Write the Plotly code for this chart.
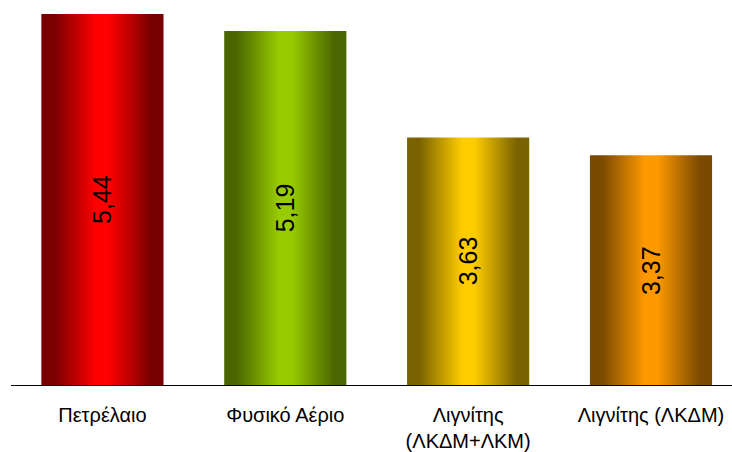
import plotly.graph_objects as go

# Data
categories = ["Πετρέλαιο", "Φυσικό Αέριο", "Λιγνίτης<br>(ΛΚΔΜ+ΛΚΜ)", "Λιγνίτης (ΛΚΔΜ)"]
values = [5.44, 5.19, 3.63, 3.37]
center_colors = ["#FF0000", "#99CC00", "#FFCC00", "#FF9900"]
edge_colors = ["#780000", "#4A6600", "#7A6200", "#7A4A00"]

BAR_WIDTH = 0.668
FONT = "Arial, Liberation Sans, sans-serif"

fig = go.Figure()

# Gradient-filled bar bodies (dark edges, bright centre)
for i, (v, c, e) in enumerate(zip(values, center_colors, edge_colors)):
    x0, x1 = i - BAR_WIDTH / 2, i + BAR_WIDTH / 2
    fig.add_trace(go.Scatter(
        x=[x0, x0, x1, x1, x0],
        y=[0, v, v, 0, 0],
        mode="lines",
        line=dict(width=0),
        fill="toself",
        fillgradient=dict(
            type="horizontal",
            colorscale=[[0, e], [0.1, e], [0.45, c], [0.55, c], [0.9, e], [1, e]],
        ),
        hoverinfo="skip",
        showlegend=False,
    ))
    # Rotated value label in the middle of the bar
    fig.add_annotation(
        x=i, y=v / 2,
        text=f"{v:.2f}".replace(".", ","),
        textangle=-90,
        showarrow=False,
        font=dict(family=FONT, size=25, color="#000000"),
    )

fig.update_layout(
    width=732,
    height=452,
    margin=dict(l=11, r=0, t=0, b=67),
    paper_bgcolor="white",
    plot_bgcolor="white",
    font=dict(family=FONT, size=20, color="#000000"),
)
fig.update_xaxes(
    range=[-0.5, 3.443],
    tickvals=list(range(len(categories))),
    ticktext=categories,
    showgrid=False,
    zeroline=False,
    showline=True,
    linecolor="#000000",
    linewidth=1,
    ticks="outside",
    ticklen=12,
    tickcolor="rgba(0,0,0,0)",
    tickfont=dict(family=FONT, size=20, color="#000000"),
)
fig.update_yaxes(
    range=[0, 5.645],
    visible=False,
    showgrid=False,
    zeroline=False,
)

fig.write_html("out.html")
